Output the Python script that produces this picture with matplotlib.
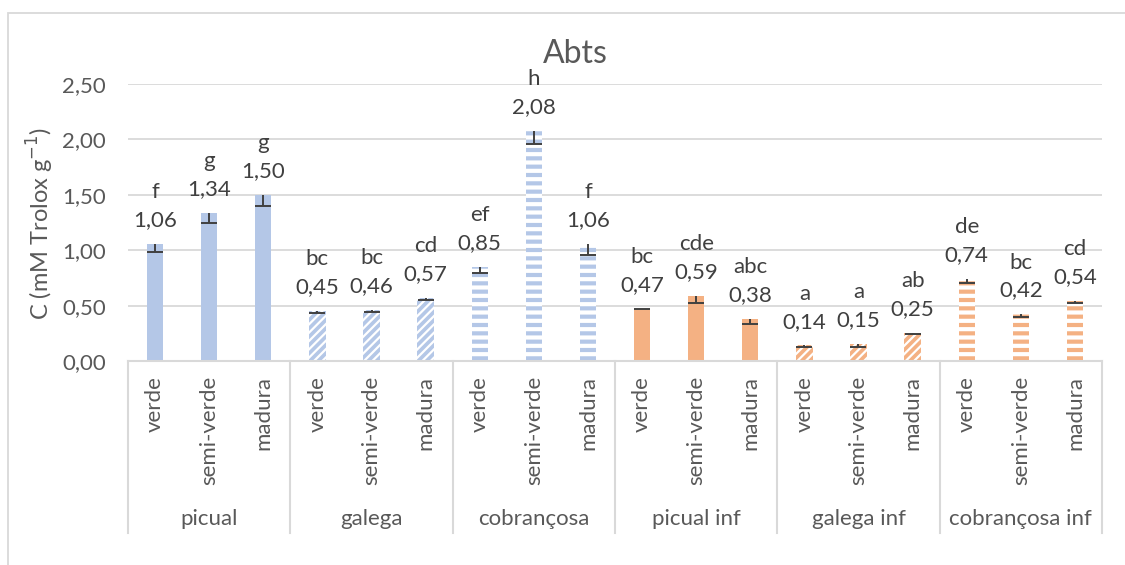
import matplotlib
matplotlib.use('Agg')
import numpy as np
import matplotlib.pyplot as plt
from matplotlib.patches import Rectangle
from matplotlib.lines import Line2D

plt.rcParams['font.family'] = ['Lato', 'DejaVu Sans']

# ── data ──────────────────────────────────────────────────────────────
groups = ['picual', 'galega', 'cobrançosa', 'picual inf', 'galega inf', 'cobrançosa inf']
stages = ['verde', 'semi-verde', 'madura']
values = [1.06, 1.34, 1.50, 0.45, 0.46, 0.57, 0.85, 2.08, 1.06,
          0.47, 0.59, 0.38, 0.14, 0.15, 0.25, 0.74, 0.42, 0.54]
errors = [0.08, 0.09, 0.10, 0.015, 0.015, 0.015, 0.06, 0.12, 0.10,
          0.005, 0.07, 0.045, 0.012, 0.02, 0.005, 0.04, 0.02, 0.015]
letters = ['f', 'g', 'g', 'bc', 'bc', 'cd', 'ef', 'h', 'f',
           'bc', 'cde', 'abc', 'a', 'a', 'ab', 'de', 'bc', 'cd']
yticks = [0.0, 0.5, 1.0, 1.5, 2.0, 2.5]

BLUE = '#B4C7E7'
ORANGE = '#F4B183'
GRID = '#D9D9D9'
TXT = '#595959'
LBL = '#404040'
FS = 16

colors = [BLUE] * 9 + [ORANGE] * 9
hatches = ([None] * 3 + ['////'] * 3 + ['--'] * 3) * 2
hatch_lw = {None: 1.0, '////': 1.6, '--': 3.0}

fig = plt.figure(figsize=(11.25, 5.65), dpi=100)
ax = fig.add_axes([128 / 1125, 1 - 361 / 565, (1102 - 128) / 1125, (361 - 84) / 565])

# chart border
fig.add_artist(Rectangle((8 / 1125, -0.1), 2.0, 1.1 - 13 / 565, transform=fig.transFigure,
                         fill=False, edgecolor=GRID, lw=1.3))

x = np.arange(len(values))
for i, (v, e) in enumerate(zip(values, errors)):
    h = hatches[i]
    plt.rcParams['hatch.linewidth'] = hatch_lw[h]
    b = ax.bar(x[i], v, width=0.3, color=colors[i], hatch=h,
               edgecolor='white' if h else colors[i], linewidth=0, zorder=2)
    for p in b:
        if hasattr(p, 'set_hatch_linewidth'):
            p.set_hatch_linewidth(hatch_lw[h])
    # minus-only error bar: stem plus lower cap
    ax.vlines(x[i], v - e, v, color=LBL, lw=1.4, zorder=3)
    ax.plot(x[i], v - e, marker='_', ms=12, mew=1.4, color=LBL, zorder=3)
    ax.annotate(f'{letters[i]}\n{v:.2f}'.replace('.', ','), (x[i], v),
                xytext=(0, 10), textcoords='offset points', ha='center',
                va='bottom', fontsize=FS, color=LBL, linespacing=1.5)

ax.set_xlim(-0.5, len(values) - 0.5)
ax.set_ylim(0, 2.5)
ax.set_yticks(yticks)
ax.set_yticklabels([f'{t:.2f}'.replace('.', ',') for t in yticks])
ax.tick_params(axis='y', length=0, labelsize=FS, labelcolor=TXT, pad=16)
ax.tick_params(axis='x', length=0, labelbottom=False)
ax.yaxis.grid(True, color=GRID, lw=1.3, zorder=0)
ax.set_axisbelow(True)
for sp in ('top', 'right', 'left'):
    ax.spines[sp].set_visible(False)
ax.spines['bottom'].set_color(GRID)
ax.spines['bottom'].set_linewidth(1.5)

fig.text(40 / 1125, 1 - 223 / 565, 'C (mM Trolox g$^{-1}$)', rotation=90,
         ha='center', va='center', fontsize=FS + 1, color=TXT)
fig.text(575 / 1125, 1 - 54 / 565, 'Abts', ha='center', va='center',
         fontsize=23, color=TXT)

# multi-level category axis
tr = ax.get_xaxis_transform()
ah = 361 - 84
for i in range(len(values)):
    ax.text(x[i], -(376 - 361) / ah, stages[i % 3], rotation=90, ha='center',
            va='top', fontsize=FS, color=TXT, transform=tr)
for g, name in enumerate(groups):
    ax.text(3 * g + 1, -(519 - 361) / ah, name, ha='center', va='center',
            fontsize=FS, color=TXT, transform=tr)
for k in range(len(groups) + 1):
    xs = 3 * k - 0.5
    ax.add_line(Line2D([xs, xs], [0, -(533 - 361) / ah], transform=tr,
                       color=GRID, lw=1.5, clip_on=False))

fig.savefig('out.png', dpi=100)
